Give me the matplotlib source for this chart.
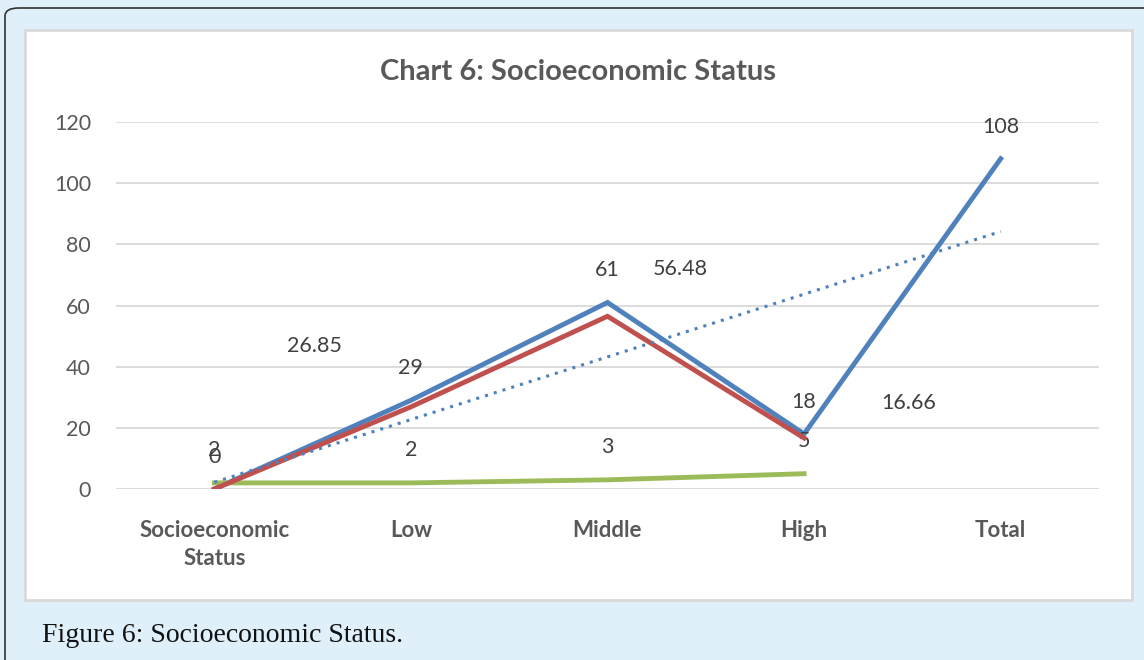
import matplotlib.pyplot as plt
from matplotlib.patches import FancyBboxPatch, Rectangle
import numpy as np

categories = ['Socioeconomic\nStatus', 'Low', 'Middle', 'High', 'Total']
blue_vals = [0, 29, 61, 18, 108]
red_vals = [0, 26.85, 56.48, 16.66]
green_vals = [2, 2, 3, 5]
red_labels = ['', '26.85', '56.48', '16.66']

W, H = 1144, 660
fig = plt.figure(figsize=(W / 100, H / 100), dpi=100)
fig.patch.set_facecolor('#dff0fa')

# outer frame and white chart box
fig.patches.append(FancyBboxPatch((5 / W, -0.2), 1.2, 1.2 - 8 / H,
                                  boxstyle='round,pad=0,rounding_size=0.012',
                                  transform=fig.transFigure, facecolor='none',
                                  edgecolor='#333333', lw=1.2, clip_on=False,
                                  zorder=-5))
fig.patches.append(Rectangle((25 / W, 1 - 600 / H), 1107 / W, 570 / H,
                             transform=fig.transFigure, facecolor='white',
                             edgecolor='#d9d9d9', lw=2, zorder=-5))

ax = fig.add_axes([116 / W, 1 - 489 / H, 983 / W, 367 / H])
ax.set_facecolor('none')
x = np.arange(1, len(categories) + 1)

ax.plot(x, blue_vals, color='#4f81bd', lw=3.5, solid_joinstyle='miter', zorder=3)
ax.plot(x[:4], red_vals, color='#c0504d', lw=3.5, solid_joinstyle='miter', zorder=4)
ax.plot(x[:4], green_vals, color='#9bbb59', lw=3.5, zorder=3)

# linear trendline of blue series
k, b = np.polyfit(x, blue_vals, 1)
ax.plot(x, k * x + b, color='#4f81bd', lw=2.2, ls=(0, (1, 2)), zorder=5)

lab = dict(ha='center', va='center', fontsize=15.5, color='#404040', family='Lato')
for xi, v in zip(x, blue_vals):
    ax.text(xi, v + 10.5, str(v), **lab)
for xi, v in zip(x, green_vals):
    ax.text(xi, v + 10.7, str(v), **lab)
# red labels sit off to the side of their points
red_offsets = [(0, 0), (-0.49, 20), (0.37, 15.4), (0.53, 11.5)]
for xi, v, t, (dx, dy) in zip(x, red_vals, red_labels, red_offsets):
    if t:
        ax.text(xi + dx, v + dy, t, **lab)

ax.set_xlim(0.5, 5.5)
ax.set_ylim(0, 120)
ax.set_yticks(range(0, 121, 20))
ax.set_xticks(x)
ax.set_xticklabels(categories, fontsize=16, fontweight='bold', color='#595959',
                   family='Lato', linespacing=1.45)
ax.tick_params(axis='y', labelsize=15.5, labelcolor='#595959', length=0, pad=18)
ax.tick_params(axis='x', length=0, pad=22)
for t in ax.get_yticklabels():
    t.set_family('Lato')
ax.grid(axis='y', color='#d9d9d9', lw=1.3)
ax.set_axisbelow(True)
for s in ax.spines.values():
    s.set_visible(False)

fig.text(578 / W, 1 - 72 / H, 'Chart 6: Socioeconomic Status', ha='center', va='center',
         fontsize=21, fontweight='bold', color='#595959', family='Lato')
fig.text(42 / W, 1 - 636 / H, 'Figure 6: Socioeconomic Status.', ha='left', va='center',
         fontsize=20, color='#111111', family='Liberation Serif')

fig.savefig('out.png', dpi=100, facecolor=fig.get_facecolor())
